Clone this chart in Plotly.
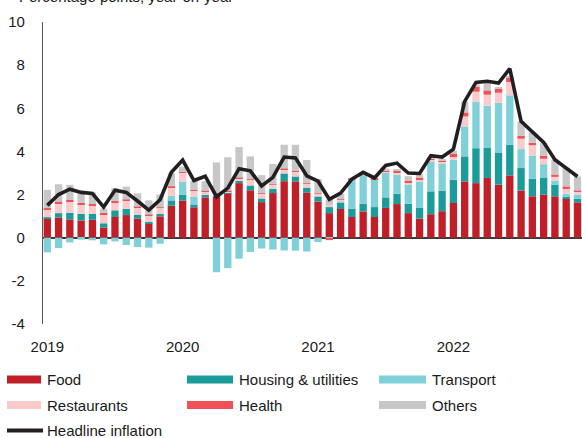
import plotly.graph_objects as go

# ---------------- data ----------------
months = [f"{y}-{m:02d}" for y in (2019, 2020, 2021, 2022) for m in range(1, 13)]
year_ticks = ["2019-01", "2020-01", "2021-01", "2022-01"]
year_labels = ["2019", "2020", "2021", "2022"]
y_ticks = [-4, -2, 0, 2, 4, 6, 8, 10]
y_labels = ["-4", "-2", "0", "2", "4", "6", "8", "10"]

food = [0.90, 0.94, 0.85, 0.80, 0.83, 0.47, 0.96, 1.05, 0.88, 0.68, 0.99, 1.48,
        1.72, 1.41, 1.87, 1.90, 2.07, 2.53, 2.20, 1.65, 2.07, 2.62, 2.61, 2.10,
        1.68, 1.14, 1.33, 0.96, 1.22, 0.96, 1.38, 1.56, 1.14, 0.89, 1.09, 1.23,
        1.61, 2.61, 2.53, 2.77, 2.46, 2.89, 2.19, 1.92, 1.99, 1.92, 1.81, 1.64]
housing = [0.05, 0.20, 0.31, 0.31, 0.28, 0.20, 0.31, 0.29, 0.19, 0.06, 0.11, 0.25,
           0.28, 0.13, 0.11, 0.03, 0.03, 0.11, 0.22, 0.17, 0.20, 0.36, 0.23, 0.22,
           0.23, 0.28, 0.28, 0.39, 0.36, 0.46, 0.49, 0.48, 0.43, 0.49, 1.06, 0.95,
           1.08, 1.16, 1.62, 1.39, 1.49, 1.42, 1.04, 0.82, 0.80, 0.54, 0.08, 0.17]
transport = [-0.68, -0.48, -0.22, -0.09, -0.12, -0.31, -0.17, -0.34, -0.43, -0.46, -0.28, 0.22,
             0.59, 0.37, 0.00, -1.60, -1.41, -0.97, -0.66, -0.50, -0.55, -0.59, -0.60, -0.64,
             -0.20, -0.03, 0.05, 1.34, 1.34, 1.27, 1.16, 0.88, 0.90, 1.23, 1.39, 1.27,
             0.93, 1.39, 2.16, 1.96, 2.30, 2.29, 0.88, 1.07, 0.62, 0.19, 0.15, 0.19]
restaurants = [0.34, 0.46, 0.53, 0.42, 0.37, 0.42, 0.37, 0.37, 0.32, 0.30, 0.28, 0.40,
               0.42, 0.27, 0.16, 0.10, 0.05, 0.12, 0.27, 0.22, 0.18, 0.20, 0.23, 0.18,
               0.12, 0.10, 0.10, 0.03, 0.05, 0.02, 0.03, 0.10, 0.10, 0.10, 0.08, 0.08,
               0.12, 0.46, 0.46, 0.51, 0.47, 0.62, 0.48, 0.48, 0.25, 0.17, 0.22, 0.12]
health = [0.08, 0.08, 0.08, 0.08, 0.08, 0.06, 0.06, 0.06, 0.05, 0.03, 0.03, 0.03,
          0.03, 0.03, 0.03, 0.02, 0.02, 0.02, 0.02, 0.02, 0.02, 0.02, 0.02, 0.02,
          0.02, -0.08, 0.02, 0.02, 0.02, 0.06, 0.06, 0.08, 0.08, 0.08, 0.03, 0.05,
          0.14, 0.19, 0.23, 0.20, 0.20, 0.19, 0.14, 0.11, 0.14, 0.11, 0.12, 0.06]
others = [0.85, 0.80, 0.68, 0.55, 0.54, 0.20, 0.60, 0.60, 0.62, 0.66, 0.60, 0.62,
          0.25, 0.42, 0.45, 1.44, 1.56, 1.42, 1.06, 0.84, 0.95, 1.11, 1.22, 1.08,
          0.67, 0.25, 0.25, 0.00, 0.03, 0.00, 0.08, 0.05, 0.20, 0.15, 0.05, 0.05,
          0.15, 0.51, 0.10, 0.34, 0.05, 0.05, 0.66, 0.49, 0.59, 0.70, 0.85, 0.66]
headline = [1.50, 2.00, 2.25, 2.10, 2.05, 1.42, 2.20, 2.10, 1.70, 1.28, 1.76, 3.03,
            3.60, 2.65, 2.85, 1.90, 2.30, 3.20, 3.10, 2.40, 2.80, 3.74, 3.70, 2.87,
            2.62, 1.78, 2.07, 2.72, 3.03, 2.77, 3.35, 3.46, 3.00, 2.98, 3.80, 3.74,
            4.10, 6.32, 7.20, 7.25, 7.17, 7.84, 5.39, 4.93, 4.42, 3.62, 3.23, 2.84]

series = [
    ("Food", food, "#C01F28"),
    ("Housing & utilities", housing, "#1B9C9A"),
    ("Transport", transport, "#80D0DA"),
    ("Restaurants", restaurants, "#FBCBCC"),
    ("Health", health, "#EF5156"),
    ("Others", others, "#C7C7C7"),
]
line_name = "Headline inflation"
line_color = "#231F20"

# ---------------- figure ----------------
W, H = 582, 438
ML, MR, MT, MB = 43, 0, 22, 114
PW, PH = W - ML - MR, H - MT - MB
FONT = "Liberation Sans, Arial, sans-serif"
TXT = "#1A1A1A"

fig = go.Figure()
for name, vals, col in series:
    fig.add_trace(go.Bar(x=months, y=vals, name=name, marker=dict(color=col, line=dict(width=0)),
                         showlegend=False))
fig.add_trace(go.Scatter(x=months, y=headline, name=line_name, mode="lines",
                         line=dict(color=line_color, width=3.6), showlegend=False))


def px_x(p):
    return (p - ML) / PW


def px_y(p):
    return (MT + PH - p) / PH


shapes = []
annotations = []
# manual legend: (label, colour, swatch x0, x1, text x, row y, kind)
legend_rows = [
    (series[0][0], series[0][2], 7, 41, 45, 379.5, "bar"),
    (series[1][0], series[1][2], 187, 233, 237, 379.5, "bar"),
    (series[2][0], series[2][2], 379, 426, 430, 379.5, "bar"),
    (series[3][0], series[3][2], 7, 41, 45, 405, "bar"),
    (series[4][0], series[4][2], 187, 233, 237, 405, "bar"),
    (series[5][0], series[5][2], 379, 426, 430, 405, "bar"),
    (line_name, line_color, 7, 43, 45, 430.5, "line"),
]
for label, col, x0, x1, tx, ry, kind in legend_rows:
    if kind == "bar":
        shapes.append(dict(type="rect", xref="paper", yref="paper",
                           x0=px_x(x0), x1=px_x(x1), y0=px_y(ry + 4), y1=px_y(ry - 4),
                           fillcolor=col, line=dict(width=0)))
    else:
        shapes.append(dict(type="line", xref="paper", yref="paper",
                           x0=px_x(x0), x1=px_x(x1), y0=px_y(ry), y1=px_y(ry),
                           line=dict(color=col, width=4)))
    annotations.append(dict(text=label, xref="paper", yref="paper", x=px_x(tx), y=px_y(ry),
                            xanchor="left", yanchor="middle", showarrow=False,
                            font=dict(family=FONT, size=15, color=TXT)))

# title, mostly cut off at the top edge as in the reference
annotations.append(dict(text="Percentage points, year-on-year", xref="paper", yref="paper",
                        x=px_x(17), y=px_y(-4), xanchor="left", yanchor="middle",
                        showarrow=False, font=dict(family=FONT, size=15, color=TXT)))

fig.update_layout(
    width=W, height=H,
    margin=dict(l=ML, r=MR, t=MT, b=MB, pad=0),
    barmode="relative", bargap=0.35,
    plot_bgcolor="white", paper_bgcolor="white",
    font=dict(family=FONT, size=15, color=TXT),
    showlegend=False,
    shapes=shapes, annotations=annotations,
    xaxis=dict(type="category", range=[-0.38, 47.4], tickvals=year_ticks, ticktext=year_labels,
               showgrid=False, showline=False, zeroline=False, ticks="",
               ticklabelstandoff=12, tickfont=dict(family=FONT, size=15, color=TXT)),
    yaxis=dict(range=[-4, 10], tickvals=y_ticks, ticktext=y_labels, showgrid=False,
               showline=True, linecolor="#595959", linewidth=1.3,
               zeroline=True, zerolinecolor="#3A3A3A", zerolinewidth=1.5,
               ticks="", ticklabelstandoff=14, tickfont=dict(family=FONT, size=15, color=TXT)),
)

fig.write_html("out.html", config={"displayModeBar": False},
               post_script="document.body.style.margin='0';document.body.style.overflow='hidden';")
